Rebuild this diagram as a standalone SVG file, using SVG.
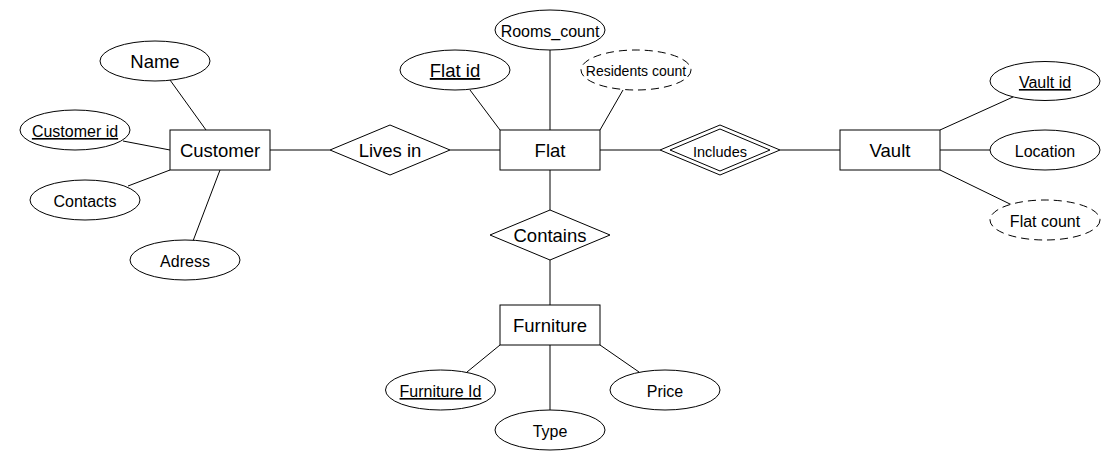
<svg xmlns="http://www.w3.org/2000/svg" width="1120" height="460" viewBox="0 0 1120 460">
<style>
  .shape { fill: #ffffff; stroke: #000000; stroke-width: 1; }
  .dashed { stroke-dasharray: 8 5; }
  .line { stroke: #000000; stroke-width: 1; fill: none; }
  text { font-family: "Liberation Sans", Arial, Helvetica, sans-serif; fill: #000000; text-anchor: middle; }
  .big { font-size: 18.5px; }
  .mid { font-size: 16px; }
  .small { font-size: 14px; }
  .key { text-decoration: underline; }
</style>
<rect x="0" y="0" width="1120" height="460" fill="#ffffff"/>
<g id="connectors">
  <line class="line" x1="170" y1="80" x2="206" y2="130"/>
  <line class="line" x1="123" y1="141" x2="170" y2="150"/>
  <line class="line" x1="128" y1="186" x2="170" y2="170"/>
  <line class="line" x1="193" y1="241" x2="220" y2="170"/>
  <line class="line" x1="270" y1="150" x2="330" y2="150"/>
  <line class="line" x1="450" y1="150" x2="500" y2="150"/>
  <line class="line" x1="470" y1="90" x2="500" y2="130"/>
  <line class="line" x1="550" y1="50" x2="550" y2="130"/>
  <line class="line" x1="623" y1="90" x2="600" y2="130"/>
  <line class="line" x1="600" y1="150" x2="660" y2="150"/>
  <line class="line" x1="780" y1="150" x2="840" y2="150"/>
  <line class="line" x1="940" y1="130" x2="1013" y2="97"/>
  <line class="line" x1="940" y1="150" x2="990" y2="150"/>
  <line class="line" x1="940" y1="170" x2="1012" y2="205"/>
  <line class="line" x1="550" y1="170" x2="550" y2="210"/>
  <line class="line" x1="550" y1="260" x2="550" y2="305"/>
  <line class="line" x1="500" y1="345" x2="467" y2="372"/>
  <line class="line" x1="550" y1="345" x2="550" y2="410"/>
  <line class="line" x1="600" y1="345" x2="639" y2="372"/>
</g>
<g id="customer">
  <rect class="shape" x="170" y="130" width="100" height="40"/>
  <text class="big" x="220" y="157">Customer</text>
</g>
<g id="attr-name">
  <ellipse class="shape" cx="155" cy="61" rx="55" ry="20"/>
  <text class="big" x="155" y="67.5">Name</text>
</g>
<g id="attr-customer-id">
  <ellipse class="shape" cx="75" cy="130" rx="55" ry="20"/>
  <text class="mid key" x="75" y="137">Customer id</text>
</g>
<g id="attr-contacts">
  <ellipse class="shape" cx="85" cy="200" rx="55" ry="20"/>
  <text class="mid" x="85" y="207">Contacts</text>
</g>
<g id="attr-adress">
  <ellipse class="shape" cx="185" cy="260" rx="55" ry="20"/>
  <text class="mid" x="185" y="267">Adress</text>
</g>
<g id="rel-lives-in">
  <polygon class="shape" points="330,150 390,125 450,150 390,175"/>
  <text class="big" x="390" y="157">Lives in</text>
</g>
<g id="flat">
  <rect class="shape" x="500" y="130" width="100" height="40"/>
  <text class="big" x="550" y="157">Flat</text>
</g>
<g id="attr-flat-id">
  <ellipse class="shape" cx="455" cy="70" rx="55" ry="20"/>
  <text class="big key" x="455" y="77">Flat id</text>
</g>
<g id="attr-rooms-count">
  <ellipse class="shape" cx="550" cy="30" rx="55" ry="20"/>
  <text class="mid" x="550" y="37">Rooms_count</text>
</g>
<g id="attr-residents-count">
  <ellipse class="shape dashed" cx="636" cy="70" rx="55" ry="20"/>
  <text class="small" x="636" y="76">Residents count</text>
</g>
<g id="rel-includes">
  <polygon class="shape" points="660,150 720,125 780,150 720,175"/>
  <polygon class="shape" points="670,150 720,129 770,150 720,171"/>
  <text x="720" y="157" style="font-size:14.5px">Includes</text>
</g>
<g id="vault">
  <rect class="shape" x="840" y="130" width="100" height="40"/>
  <text class="big" x="890" y="157">Vault</text>
</g>
<g id="attr-vault-id">
  <ellipse class="shape" cx="1045" cy="81" rx="55" ry="19.5"/>
  <text class="mid key" x="1045" y="88">Vault id</text>
</g>
<g id="attr-location">
  <ellipse class="shape" cx="1045" cy="150" rx="55" ry="20"/>
  <text class="mid" x="1045" y="157">Location</text>
</g>
<g id="attr-flat-count">
  <ellipse class="shape dashed" cx="1045" cy="220" rx="55" ry="20"/>
  <text class="mid" x="1045" y="227">Flat count</text>
</g>
<g id="rel-contains">
  <polygon class="shape" points="490,235 550,210 610,235 550,260"/>
  <text class="big" x="550" y="242">Contains</text>
</g>
<g id="furniture">
  <rect class="shape" x="500" y="305" width="100" height="40"/>
  <text class="big" x="550" y="332">Furniture</text>
</g>
<g id="attr-furniture-id">
  <ellipse class="shape" cx="440.5" cy="390" rx="55" ry="20"/>
  <text class="mid key" x="440.5" y="397">Furniture Id</text>
</g>
<g id="attr-type">
  <ellipse class="shape" cx="550" cy="430" rx="55" ry="20"/>
  <text class="mid" x="550" y="437">Type</text>
</g>
<g id="attr-price">
  <ellipse class="shape" cx="665" cy="390" rx="55" ry="20"/>
  <text class="mid" x="665" y="397">Price</text>
</g>
</svg>
